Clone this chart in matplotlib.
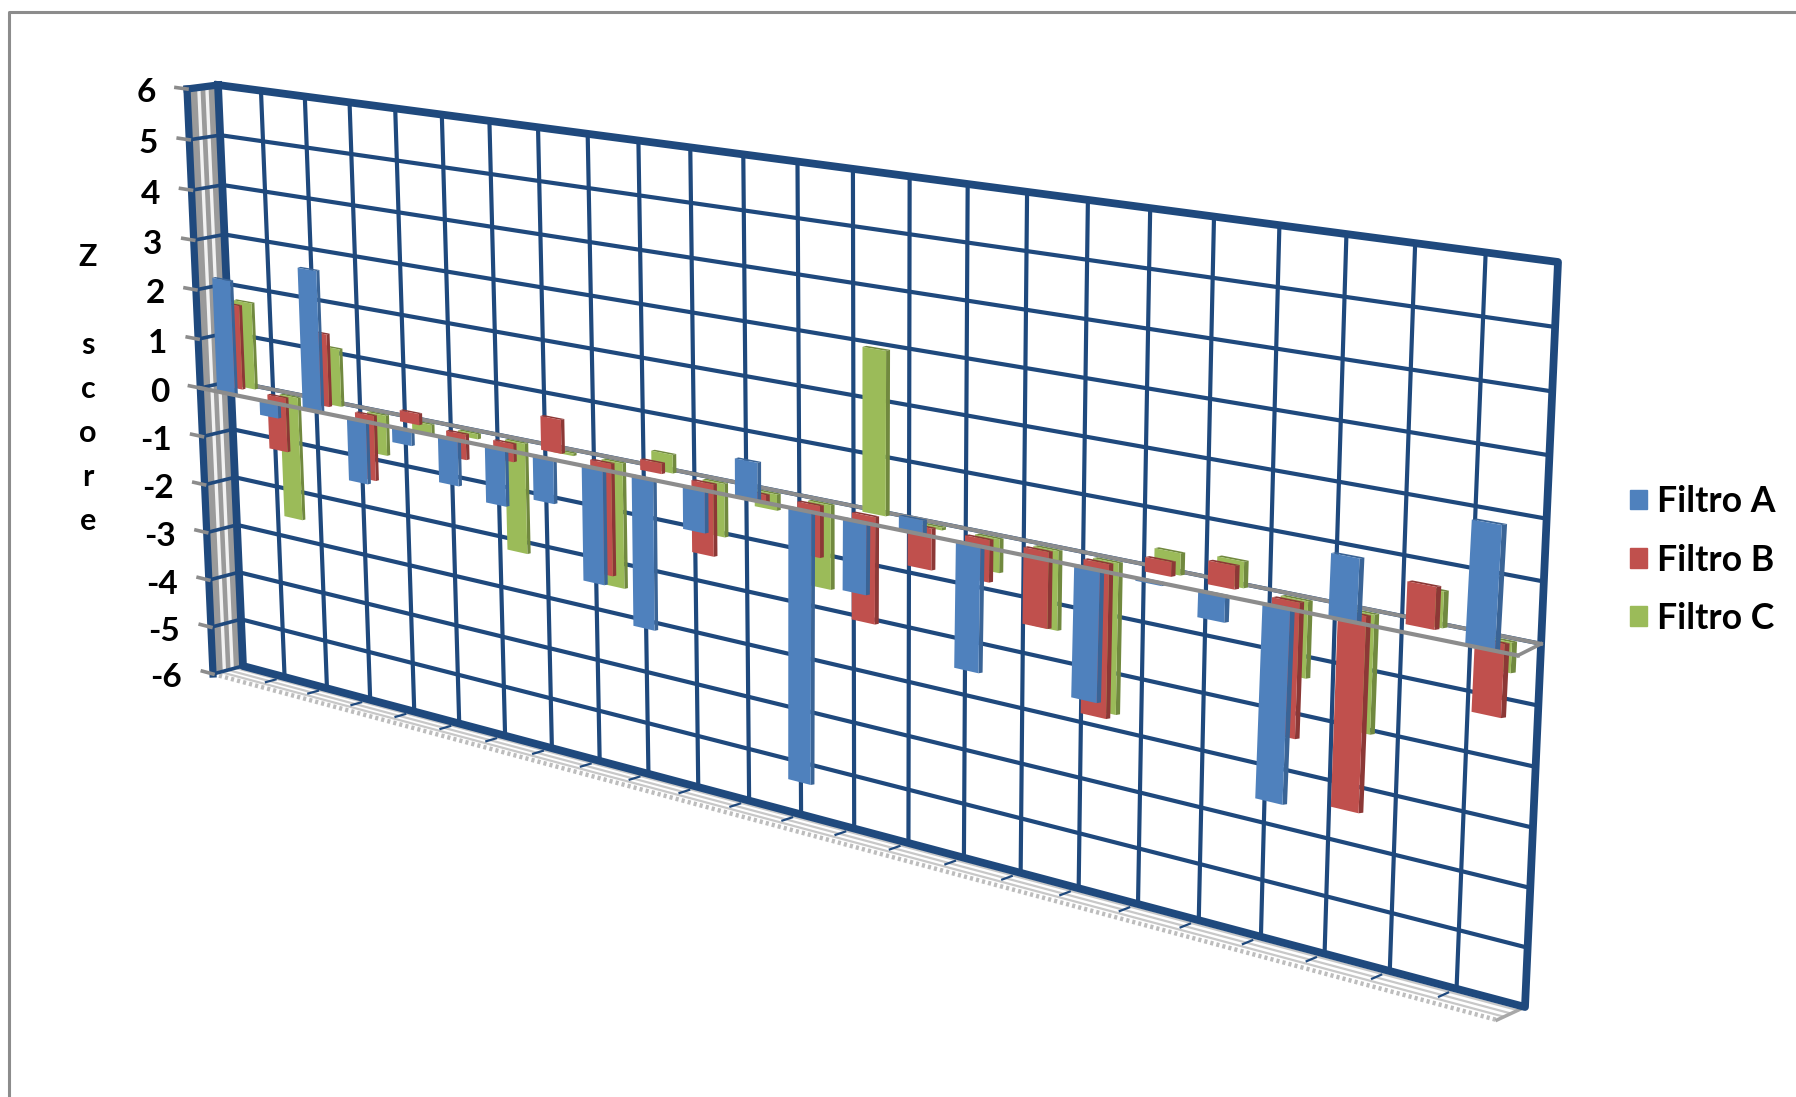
import numpy as np
import matplotlib
matplotlib.use("Agg")
import matplotlib.pyplot as plt
from matplotlib.patches import Patch
from matplotlib.transforms import Transform

# z score per group
filtro_a = [2.3, -0.3, 2.8, -1.25, -0.3, -0.9, -1.1, -0.85, -2.2, -2.85, -0.8, 0.7,
            -5.05, -1.3, 0.25, -2.25, 0.0, -2.3, -0.05, -0.45, -3.3, 1.05, 0.0, 2.0]
filtro_b = [1.7, -1.1, 1.45, -1.3, 0.22, -0.5, -0.35, 0.65, -2.15, 0.2, -1.35, -0.15,
            -0.95, -1.95, -0.75, -0.75, -1.35, -2.7, 0.25, 0.4, -2.3, -3.3, 0.7, -1.2]
filtro_c = [1.75, -2.5, 1.15, -0.8, -0.2, -0.1, -2.15, -0.05, -2.4, 0.35, -1.0, -0.3,
            -1.55, 2.95, -0.05, -0.6, -1.4, -2.65, 0.38, 0.45, -1.3, -2.0, 0.6, -0.5]
z_ticks = [6, 5, 4, 3, 2, 1, 0, -1, -2, -3, -4, -5, -6]
series_names = ["Filtro A", "Filtro B", "Filtro C"]

n_groups = len(filtro_a)
BLUE = "#1F497D"
GRAY = "#8C8C8C"
plt.rcParams["font.family"] = ["Lato", "DejaVu Sans"]

# corners of the wall and of the front plane, in image pixels (tl, tr, br, bl)
wall_corners = np.array([[218, 85], [1558, 262], [1525, 1007], [243, 666]], float)
front_corners = np.array([[187, 89], [1540, 269], [1497, 1020], [213, 674]], float)


class PlaneTransform(Transform):
    # perspective map from (group, z score) to image pixels
    input_dims = 2
    output_dims = 2
    is_separable = False
    has_inverse = False

    def __init__(self, corners):
        super().__init__()
        src = [(0, 6), (n_groups, 6), (n_groups, -6), (0, -6)]
        rows, rhs = [], []
        for (x, y), (u, v) in zip(src, corners):
            rows.append([x, y, 1, 0, 0, 0, -u * x, -u * y])
            rows.append([0, 0, 0, x, y, 1, -v * x, -v * y])
            rhs += [u, v]
        self.h = np.append(np.linalg.solve(np.array(rows), np.array(rhs)), 1).reshape(3, 3)

    def transform_non_affine(self, values):
        values = np.asarray(values, float)
        pts = np.column_stack([values, np.ones(len(values))]) @ self.h.T
        return pts[:, :2] / pts[:, 2:]


def plane(t):
    # t = 0 is the wall, t = 1 the front of the chart
    return PlaneTransform((1 - t) * wall_corners + t * front_corners)


fig = plt.figure(figsize=(17.96, 10.97), dpi=100)
ax = fig.add_axes([0, 0, 1, 1])
ax.set_xlim(0, 1796)
ax.set_ylim(1097, 0)
ax.axis("off")

wall = plane(0)
front = plane(1)


def across(cat, z, t0=1.0, t1=0.0):
    # pixel ends of a segment running in depth
    a = plane(t0).transform_non_affine([[cat, z]])[0]
    b = plane(t1).transform_non_affine([[cat, z]])[0]
    return [a[0], b[0]], [a[1], b[1]]


# outer chart area border
ax.plot([8.5, 8.5, 1796], [1097, 11.5, 11.5], color="#8C8C8C", lw=2.2, zorder=1)

# side wall
left_edge = np.array([[0, -6], [0, 6]])
side = np.vstack([front.transform_non_affine(left_edge),
                  wall.transform_non_affine(left_edge[::-1])])
ax.fill(side[:, 0], side[:, 1], color="#9A9A9A", lw=0, zorder=2)
for t in [0.36, 0.62]:
    ax.plot(left_edge[:, 0], left_edge[:, 1], color="#F2F2F2", lw=2.4,
            transform=plane(t) + ax.transData, zorder=3)

# floor
for t in [0.25, 0.5, 0.75]:
    ax.plot([0, n_groups], [-6, -6], color="#C8C8C8", lw=1.6,
            transform=plane(t) + ax.transData, zorder=3)
ax.plot([0, n_groups], [-6, -6], color="#BDBDBD", lw=3.2, ls=(0, (0.7, 0.7)),
        transform=front + ax.transData, zorder=3)
for i in range(1, n_groups):
    xs, ys = across(i, -6, 0.62, 0.3)
    ax.plot(xs, ys, color=BLUE, lw=1.6, zorder=3)
xs, ys = across(n_groups, -6)
ax.plot(xs, ys, color="#A8A8A8", lw=2.5, zorder=3)

# wall grid
for i in range(1, n_groups):
    ax.plot([i, i], [-6, 6], color=BLUE, lw=3.0, transform=wall + ax.transData, zorder=4)
for z in z_ticks[1:-1]:
    ax.plot([0, n_groups], [z, z], color=BLUE, lw=3.0, transform=wall + ax.transData, zorder=4)
    xs, ys = across(0, z)
    ax.plot(xs, ys, color=BLUE, lw=2.6, zorder=4)

# frame of the wall
ax.plot([0, n_groups, n_groups, 0, 0], [6, 6, -6, -6, 6], color=BLUE, lw=5.6,
        solid_joinstyle="round", transform=wall + ax.transData, zorder=5)
ax.plot([0, 0], [-6, 6], color=BLUE, lw=5.2, transform=front + ax.transData, zorder=5)
xs, ys = across(0, 6)
ax.plot(xs, ys, color=BLUE, lw=5.2, zorder=5)
xs, ys = across(0, -6)
ax.plot(xs, ys, color=BLUE, lw=2.6, zorder=5)

# back zero line
ax.plot([0, n_groups], [0, 0], color=GRAY, lw=2.8, transform=wall + ax.transData, zorder=6)

# bars, deepest series first
bar_w = 0.42
side_w = 0.07
cap_h = 0.03
series = [
    (filtro_c, 0.27, -0.05, 0.05, "#9BBB59", "#71893F"),
    (filtro_b, 0.47, -0.20, 0.16, "#C0504D", "#8C3836"),
    (filtro_a, 1.00, 0.0, 0.0, "#4F81BD", "#3A6496"),
]
for vals, depth, drift, drift_end, col, dark in series:
    tr = plane(depth) + ax.transData
    for i, v in enumerate(vals):
        if v == 0:
            continue
        frac = i / (n_groups - 1)
        x0 = i + 0.4 - 0.14 * frac + drift + drift_end * frac
        x1 = x0 + bar_w
        top = max(v, 0)
        bot = min(v, 0)
        ax.fill([x1, x1 + side_w, x1 + side_w, x1], [bot, bot + cap_h, top + cap_h, top],
                color=dark, lw=0, transform=tr, zorder=7)
        ax.fill([x0, x0 + side_w, x1 + side_w, x1], [top, top + cap_h, top + cap_h, top],
                color=dark, lw=0, transform=tr, zorder=7)
        ax.fill([x0, x1, x1, x0], [bot, bot, top, top], color=col, lw=0, transform=tr, zorder=7)

# front zero line, joined to the back one at the right
ax.plot([0, n_groups], [0, 0], color=GRAY, lw=3.0, transform=front + ax.transData, zorder=8)
xs, ys = across(n_groups, 0)
ax.plot(xs, ys, color=GRAY, lw=2.6, zorder=8)

# z axis ticks and labels
for z in z_ticks:
    ax.plot([-0.26, 0], [z, z], color=GRAY, lw=2.6, transform=front + ax.transData, zorder=6)
    ax.annotate(str(z), xy=(0, z), xycoords=front + ax.transData, xytext=(-31, -4),
                textcoords="offset pixels", ha="right", va="center", fontsize=24,
                fontweight="bold", color="black")

ax.text(88, 389, "Z\n\ns\nc\no\nr\ne", ha="center", va="center", fontsize=22,
        fontweight="bold", color="black", linespacing=1.7)

handles = [Patch(color=c) for c in ["#4F81BD", "#C0504D", "#9BBB59"]]
ax.legend(handles, series_names, loc="center left", bbox_to_anchor=(0.9076, 0.4895), frameon=False,
          prop={"weight": "bold", "size": 25.7}, handlelength=0.48, handleheight=0.48,
          handletextpad=0.28, labelspacing=0.71, borderpad=0, borderaxespad=0)

fig.savefig("out.png", dpi=100)
